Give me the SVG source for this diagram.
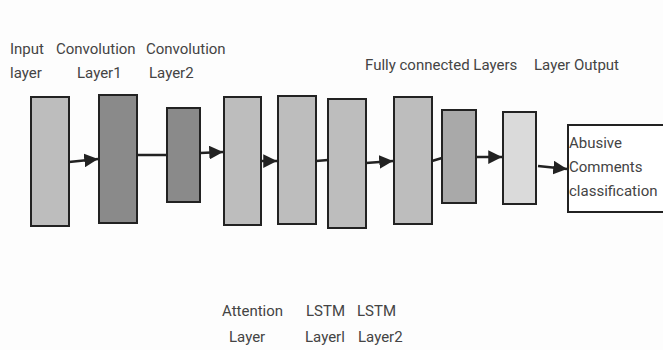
<svg xmlns="http://www.w3.org/2000/svg" width="663" height="350" viewBox="0 0 663 350">
  <style>
    .lbl { font-family: Roboto, "Liberation Sans", sans-serif; font-size: 15px; fill: #444; }
    .box { stroke: #222; stroke-width: 2; }
    .light { fill: #bdbdbd; }
    .dark { fill: #8a8a8a; }
    .mid { fill: #a9a9a9; }
    .pale { fill: #dadada; }
    .edge { stroke: #222; stroke-width: 2.5; fill: none; }
  </style>
  <defs>
    <marker id="arrow" viewBox="0 0 10 10" refX="10" refY="5" markerWidth="5.5" markerHeight="5.5" orient="auto" markerUnits="strokeWidth">
      <path d="M0,0 L10,5 L0,10 Z" fill="#222"/>
    </marker>
  </defs>
  <rect width="663" height="350" fill="#fdfdfd"/>

  <!-- labels above -->
  <g id="labels-top">
    <text class="lbl" x="10" y="54">Input</text>
    <text class="lbl" x="10" y="78">layer</text>
    <text class="lbl" x="56" y="54">Convolution</text>
    <text class="lbl" x="77" y="78">Layer1</text>
    <text class="lbl" x="146" y="54">Convolution</text>
    <text class="lbl" x="149" y="78">Layer2</text>
    <text class="lbl" x="365" y="70">Fully connected Layers</text>
    <text class="lbl" x="534" y="70">Layer Output</text>
  </g>

  <!-- labels below -->
  <g id="labels-bottom">
    <text class="lbl" x="222" y="316">Attention</text>
    <text class="lbl" x="229" y="342">Layer</text>
    <text class="lbl" x="306" y="316">LSTM</text>
    <text class="lbl" x="305" y="342">Layerl</text>
    <text class="lbl" x="357" y="316">LSTM</text>
    <text class="lbl" x="358" y="342">Layer2</text>
  </g>

  <!-- layers -->
  <g id="input-layer"><rect class="box light" x="31" y="97" width="38" height="129"/></g>
  <g id="conv1"><rect class="box dark" x="99" y="95" width="38" height="128"/></g>
  <g id="conv2"><rect class="box dark" x="167" y="108" width="33" height="94"/></g>
  <g id="attention"><rect class="box light" x="224" y="97" width="37" height="128"/></g>
  <g id="lstm1"><rect class="box light" x="278" y="96" width="38" height="128"/></g>
  <g id="lstm2"><rect class="box light" x="328" y="99" width="38" height="129"/></g>
  <g id="fc1"><rect class="box light" x="394" y="97" width="38" height="127"/></g>
  <g id="fc2"><rect class="box mid" x="442" y="110" width="34" height="93"/></g>
  <g id="output"><rect class="box pale" x="503" y="112" width="33" height="92"/></g>
  <g id="classification">
    <rect class="box" x="568" y="125" width="100" height="87" fill="#fff"/>
    <text class="lbl" x="569" y="148">Abusive</text>
    <text class="lbl" x="569" y="172">Comments</text>
    <text class="lbl" x="569" y="196">classification</text>
  </g>

  <!-- connectors -->
  <g id="connectors">
    <path class="edge" d="M69,162 L98,159" marker-end="url(#arrow)"/>
    <path class="edge" d="M137,155 L167,155"/>
    <path class="edge" d="M200,153 L223,152" marker-end="url(#arrow)"/>
    <path class="edge" d="M261,161 L277,161" marker-end="url(#arrow)"/>
    <path class="edge" d="M316,161 L328,160"/>
    <path class="edge" d="M366,163 L393,161" marker-end="url(#arrow)"/>
    <path class="edge" d="M432,161 L442,158"/>
    <path class="edge" d="M476,157 L502,157" marker-end="url(#arrow)"/>
    <path class="edge" d="M538,166 L567,169" marker-end="url(#arrow)"/>
  </g>
</svg>
